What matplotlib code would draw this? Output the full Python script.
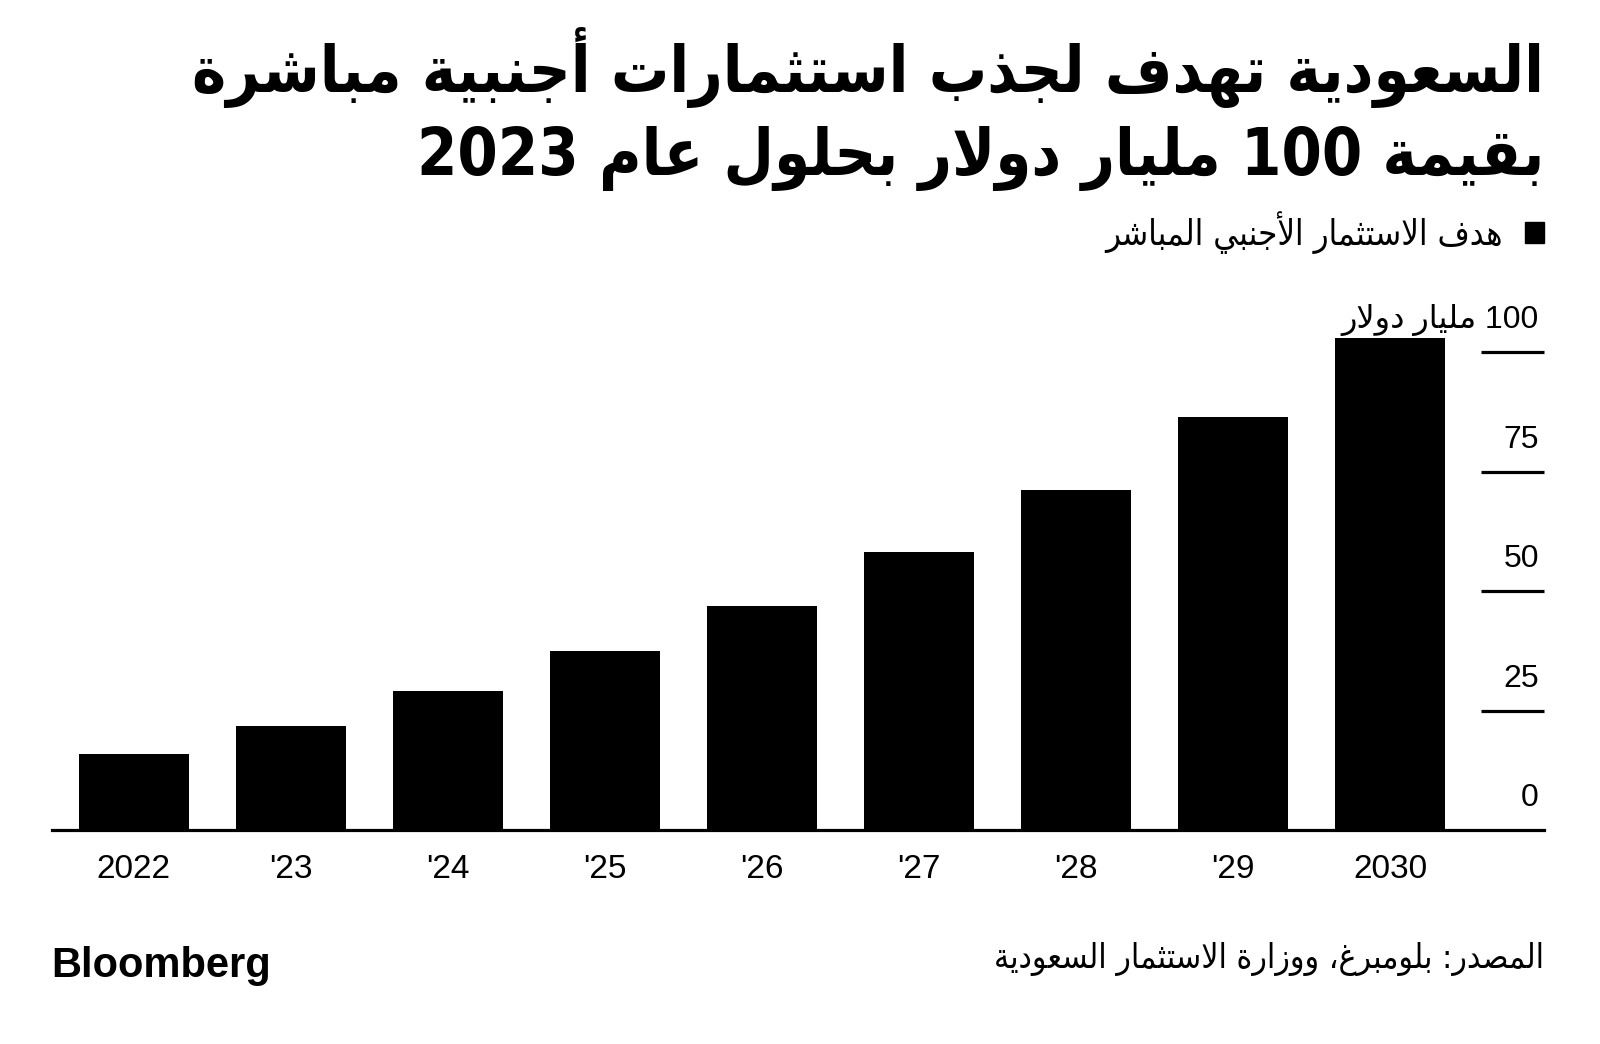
import matplotlib
matplotlib.use('Agg')
import matplotlib.pyplot as plt
import matplotlib.transforms as mtransforms
from matplotlib.patches import Rectangle

# data (billion USD)
years = ['2022', "'23", "'24", "'25", "'26", "'27", "'28", "'29", '2030']
fdi_target = [16.0, 21.8, 29.1, 37.4, 46.8, 58.2, 71.2, 86.4, 103.1]
y_ticks = [0, 25, 50, 75, 100]
y_tick_labels = ['0', '25', '50', '75', '100 مليار دولار']

title_lines = ['السعودية تهدف لجذب استثمارات أجنبية مباشرة',
               'بقيمة 100 مليار دولار بحلول عام 2023']
legend_label = 'هدف الاستثمار الأجنبي المباشر'
source_text = 'المصدر: بلومبرغ، ووزارة الاستثمار السعودية'

# matplotlib has no arabic shaping, so map letters to presentation forms by hand
# letters in the order of the Presentation Forms-B block, with how many forms each has
_letters = [('ء', 1), ('آ', 2), ('أ', 2), ('ؤ', 2), ('إ', 2), ('ئ', 4), ('ا', 2), ('ب', 4),
            ('ة', 2), ('ت', 4), ('ث', 4), ('ج', 4), ('ح', 4), ('خ', 4), ('د', 2), ('ذ', 2),
            ('ر', 2), ('ز', 2), ('س', 4), ('ش', 4), ('ص', 4), ('ض', 4), ('ط', 4), ('ظ', 4),
            ('ع', 4), ('غ', 4), ('ف', 4), ('ق', 4), ('ك', 4), ('ل', 4), ('م', 4), ('ن', 4),
            ('ه', 4), ('و', 2), ('ى', 2), ('ي', 4)]
FORMS = {}
code = 0xFE80
for ch, n in _letters:
    FORMS[ch] = [chr(code + k) for k in range(n)]
    code += n
LAM_ALEF = {'آ': 0xFEF5, 'أ': 0xFEF7, 'إ': 0xFEF9, 'ا': 0xFEFB}


def shape_arabic(text):
    chars = []
    i = 0
    while i < len(text):
        c = text[i]
        if c == 'ل' and i + 1 < len(text) and text[i + 1] in LAM_ALEF:
            chars.append(('LA', text[i + 1]))
            i += 2
        else:
            chars.append((c, None))
            i += 1

    def joins_next(item):
        return item[0] in FORMS and len(FORMS[item[0]]) == 4

    def joinable(item):
        return item[0] == 'LA' or (item[0] in FORMS and item[0] != 'ء')

    out = []
    for k, item in enumerate(chars):
        prev_j = k > 0 and joins_next(chars[k - 1]) and joinable(item)
        next_j = k + 1 < len(chars) and joins_next(item) and joinable(chars[k + 1])
        c = item[0]
        if c == 'LA':
            base = LAM_ALEF[item[1]]
            out.append(chr(base + 1) if prev_j else chr(base))
        elif c in FORMS:
            f = FORMS[c]
            if len(f) == 1:
                out.append(f[0])
            elif len(f) == 2:
                out.append(f[1] if prev_j else f[0])
            else:
                if prev_j and next_j:
                    out.append(f[3])
                elif prev_j:
                    out.append(f[1])
                elif next_j:
                    out.append(f[2])
                else:
                    out.append(f[0])
        else:
            out.append(c)

    # visual order right to left, digit runs stay left to right
    runs = []
    for c in out:
        if c.isdigit() and runs and runs[-1][0].isdigit():
            runs[-1] += c
        else:
            runs.append(c)
    return ''.join(reversed(runs))


W, H = 1600, 1044
fig = plt.figure(figsize=(W / 100, H / 100), dpi=100)
fig.patch.set_facecolor('white')


def fx(x):
    return x / W


def fy(y):
    return 1 - y / H


latin = ['Liberation Sans', 'DejaVu Sans']
arabic = ['DejaVu Sans']

px_per_unit = 4.776
ymax = 105
ax = fig.add_axes([fx(52), fy(830), fx(1544) - fx(52), ymax * px_per_unit / H])
ax.bar(range(len(years)), fdi_target, width=0.7, color='black', zorder=2)
ax.set_xlim(-0.52, 8.98)
ax.set_ylim(0, ymax)

for s in ax.spines.values():
    s.set_visible(False)
ax.set_yticks([])
ax.set_xticks(range(len(years)))
ax.set_xticklabels(years, fontsize=24, family=latin)
ax.tick_params(axis='x', length=0, pad=17)

# baseline + short grid stubs on the right
ax.axhline(0, color='black', lw=2.3, zorder=3, clip_on=False)
trans = mtransforms.blended_transform_factory(ax.transAxes, ax.transData)
for v, lab in zip(y_ticks, y_tick_labels):
    if v > 0:
        ax.plot([0.958, 1.0], [v, v], transform=trans, color='black', lw=2.3,
                clip_on=False, solid_capstyle='butt')
    off = mtransforms.offset_copy(trans, fig=fig, x=0, y=24 * 0.72, units='points')
    ax.text(0.9966, v, shape_arabic(lab), transform=off, ha='right', va='baseline',
            fontsize=23, family=latin)

# title
renderer = fig.canvas.get_renderer()


def fit_width(t, width_px):
    w = t.get_window_extent(renderer).width
    t.set_fontsize(t.get_fontsize() * width_px / w)


t1 = fig.text(fx(1544), fy(92), shape_arabic(title_lines[0]), ha='right', va='baseline',
              fontsize=40, fontweight='bold', fontstretch='condensed', family=arabic)
fit_width(t1, 1350)
t2 = fig.text(fx(1544), fy(175), shape_arabic(title_lines[1]), ha='right', va='baseline',
              fontsize=t1.get_fontsize(), fontweight='bold', fontstretch='condensed',
              family=arabic)

# legend
fig.patches.append(Rectangle((fx(1525), fy(243)), fx(19), 21 / H, transform=fig.transFigure,
                             color='black'))
lg = fig.text(fx(1503), fy(233), shape_arabic(legend_label), ha='right', va='center',
              fontsize=18, fontstretch='condensed', family=arabic)
fit_width(lg, 396)

# footer
bb = fig.text(fx(51), fy(966), 'Bloomberg', ha='left', va='center', fontsize=28,
              fontweight='heavy', family=latin)
fit_width(bb, 220)
src = fig.text(fx(1544), fy(959), shape_arabic(source_text), ha='right', va='center',
               fontsize=18, fontstretch='condensed', family=arabic)
fit_width(src, 549)

fig.savefig('out.png', dpi=100, facecolor='white')
